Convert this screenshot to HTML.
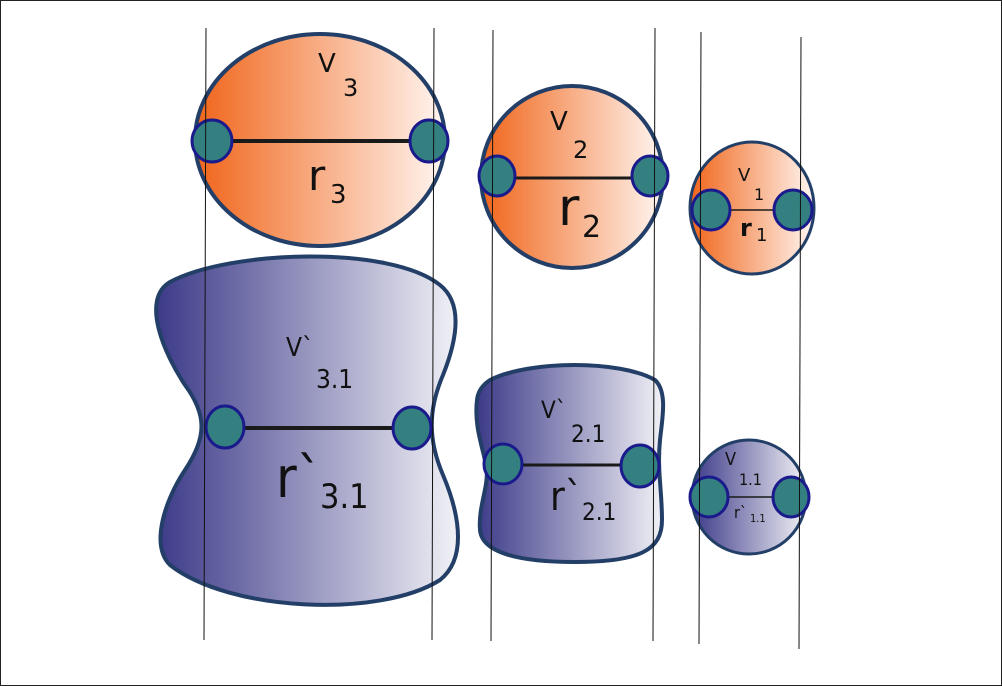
<!DOCTYPE html>
<html><head><meta charset="utf-8"><style>
html,body{margin:0;padding:0;background:#fff}
svg{display:block}
text{font-family:"DejaVu Sans","Liberation Sans",sans-serif;fill:#111}
.c{font-family:"DejaVu Sans Condensed","DejaVu Sans","Liberation Sans",sans-serif}
</style></head><body>
<svg width="1002" height="686" viewBox="0 0 1002 686" xmlns="http://www.w3.org/2000/svg">
<defs>
<linearGradient id="og" x1="0" x2="1" y1="0" y2="0">
<stop offset="0" stop-color="#f0651a"/><stop offset="1" stop-color="#fff6f1"/></linearGradient>
<linearGradient id="bg" x1="0" x2="1" y1="0" y2="0">
<stop offset="0" stop-color="#3c3a88"/><stop offset="1" stop-color="#f1f1f6"/></linearGradient>
</defs>
<rect x="0.5" y="0.5" width="1001" height="685" fill="#fff" stroke="#222" stroke-width="1"/>

<!-- top row -->
<ellipse cx="320" cy="140" rx="125" ry="106" fill="url(#og)" stroke="#233f68" stroke-width="4"/>
<line x1="225" y1="141" x2="415" y2="141" stroke="#1a1a1a" stroke-width="4"/>
<ellipse cx="212" cy="141" rx="20" ry="21" fill="#348080" stroke="#1a1a8c" stroke-width="3"/>
<ellipse cx="429" cy="141" rx="19" ry="21" fill="#348080" stroke="#1a1a8c" stroke-width="3"/>
<text x="318" y="72" font-size="26">V</text><text x="343" y="96" font-size="24">3</text>
<text x="308" y="190" font-size="42">r</text><text x="330" y="203" font-size="26">3</text>

<circle cx="572" cy="177" r="91" fill="url(#og)" stroke="#233f68" stroke-width="4"/>
<line x1="510" y1="178" x2="636" y2="178" stroke="#1a1a1a" stroke-width="3"/>
<ellipse cx="497" cy="176" rx="18" ry="20" fill="#348080" stroke="#1a1a8c" stroke-width="3"/>
<ellipse cx="650" cy="176" rx="18" ry="20" fill="#348080" stroke="#1a1a8c" stroke-width="3"/>
<text x="550" y="130" font-size="26">V</text><text x="573" y="158" font-size="24">2</text>
<text x="558" y="225" font-size="52">r</text><text x="582" y="237" font-size="30">2</text>

<ellipse cx="752" cy="208" rx="62" ry="66" fill="url(#og)" stroke="#233f68" stroke-width="3"/>
<line x1="725" y1="210" x2="780" y2="210" stroke="#1a1a1a" stroke-width="1.5"/>
<ellipse cx="711" cy="210" rx="19" ry="20" fill="#348080" stroke="#1a1a8c" stroke-width="3"/>
<ellipse cx="793" cy="210" rx="19" ry="20" fill="#348080" stroke="#1a1a8c" stroke-width="3"/>
<text x="738" y="181" font-size="18">V</text><text x="754" y="200" font-size="16">1</text>
<text x="740" y="236" font-size="24" font-weight="bold">r</text><text x="756" y="241" font-size="18">1</text>

<!-- bottom row -->
<path d="M170 282 C230 250 390 245 440 285 C465 305 455 345 443 375 C428 410 428 440 443 475 C462 520 465 560 440 580 C380 618 230 612 170 565 C150 545 165 500 185 470 C207 437 207 415 185 385 C165 355 140 300 170 282 Z" fill="url(#bg)" stroke="#233f68" stroke-width="4"/>
<line x1="240" y1="428" x2="398" y2="428" stroke="#1a1a1a" stroke-width="4"/>
<ellipse cx="225" cy="427" rx="19" ry="21" fill="#348080" stroke="#1a1a8c" stroke-width="3"/>
<ellipse cx="412" cy="428" rx="19" ry="21" fill="#348080" stroke="#1a1a8c" stroke-width="3"/>
<text class="c" x="286" y="356" font-size="26">V`</text><text class="c" x="316" y="388" font-size="26">3.1</text>
<text class="c" x="276" y="497" font-size="56">r`</text><text class="c" x="320" y="508" font-size="34">3.1</text>

<path d="M490 380 C530 360 620 360 655 380 C668 392 662 420 660 440 C657 470 662 490 662 520 C662 550 640 562 575 562 C520 562 482 553 480 530 C478 505 490 485 486 465 C482 445 474 425 477 400 C478 390 484 384 490 380 Z" fill="url(#bg)" stroke="#233f68" stroke-width="4"/>
<line x1="520" y1="465" x2="625" y2="465" stroke="#1a1a1a" stroke-width="3"/>
<ellipse cx="503" cy="464" rx="19" ry="20" fill="#348080" stroke="#1a1a8c" stroke-width="3"/>
<ellipse cx="640" cy="466" rx="19" ry="21" fill="#348080" stroke="#1a1a8c" stroke-width="3"/>
<text class="c" x="541" y="418" font-size="24">V`</text><text class="c" x="571" y="442" font-size="24">2.1</text>
<text class="c" x="550" y="510" font-size="40">r`</text><text class="c" x="582" y="520" font-size="24">2.1</text>

<ellipse cx="749" cy="497" rx="57" ry="57" fill="url(#bg)" stroke="#233f68" stroke-width="3"/>
<line x1="724" y1="497" x2="776" y2="497" stroke="#1a1a1a" stroke-width="1.5"/>
<ellipse cx="709" cy="497" rx="19" ry="20" fill="#348080" stroke="#1a1a8c" stroke-width="3"/>
<ellipse cx="791" cy="497" rx="18" ry="20" fill="#348080" stroke="#1a1a8c" stroke-width="3"/>
<text class="c" x="725" y="465" font-size="18">V</text><text class="c" x="739" y="485" font-size="16">1.1</text>
<text class="c" x="734" y="518" font-size="16">r`</text><text class="c" x="750" y="522" font-size="11">1.1</text>

<!-- vertical lines -->
<g stroke="#111" stroke-width="1">
<line x1="206" y1="28" x2="204" y2="640"/>
<line x1="434" y1="28" x2="432" y2="640"/>
<line x1="493" y1="30" x2="491" y2="641"/>
<line x1="655" y1="28" x2="653" y2="641"/>
<line x1="701" y1="32" x2="699" y2="644"/>
<line x1="801" y1="37" x2="799" y2="649"/>
</g>
</svg>
</body></html>
